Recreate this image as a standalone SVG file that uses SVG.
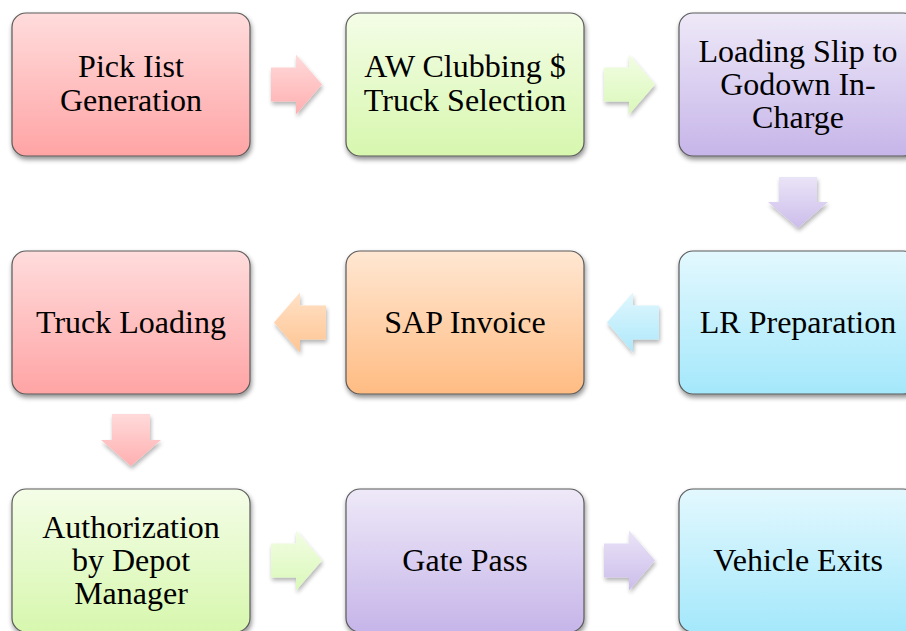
<svg xmlns="http://www.w3.org/2000/svg" width="906" height="631" viewBox="0 0 906 631">
<style>
.box{stroke:#5a5a5a;stroke-width:1.2;filter:url(#sh)}
.arr{filter:url(#sha)}
.t{font-family:'Liberation Serif','Times New Roman','DejaVu Serif',serif;font-size:32px;fill:#000;text-anchor:middle}
</style>
<defs>
<filter id="sh" x="-10%" y="-10%" width="125%" height="130%">
<feGaussianBlur in="SourceAlpha" stdDeviation="2.5"/>
<feOffset dx="1" dy="3" result="b"/>
<feComponentTransfer><feFuncA type="linear" slope="0.45"/></feComponentTransfer>
<feMerge><feMergeNode/><feMergeNode in="SourceGraphic"/></feMerge>
</filter>
<filter id="sha" x="-20%" y="-20%" width="150%" height="150%">
<feGaussianBlur in="SourceAlpha" stdDeviation="2"/>
<feOffset dx="1" dy="3" result="b"/>
<feComponentTransfer><feFuncA type="linear" slope="0.3"/></feComponentTransfer>
<feMerge><feMergeNode/><feMergeNode in="SourceGraphic"/></feMerge>
</filter>
<linearGradient id="gR" x1="0" y1="0" x2="0" y2="1"><stop offset="0" stop-color="#FFDCDC"/><stop offset="1" stop-color="#FFA4A5"/></linearGradient>
<linearGradient id="gG" x1="0" y1="0" x2="0" y2="1"><stop offset="0" stop-color="#F4FDE7"/><stop offset="1" stop-color="#D7F7AE"/></linearGradient>
<linearGradient id="gP" x1="0" y1="0" x2="0" y2="1"><stop offset="0" stop-color="#EEE9F8"/><stop offset="1" stop-color="#C6B5E9"/></linearGradient>
<linearGradient id="gB" x1="0" y1="0" x2="0" y2="1"><stop offset="0" stop-color="#E3F8FE"/><stop offset="1" stop-color="#A4E8FB"/></linearGradient>
<linearGradient id="gO" x1="0" y1="0" x2="0" y2="1"><stop offset="0" stop-color="#FFE7D2"/><stop offset="1" stop-color="#FFBC83"/></linearGradient>
<linearGradient id="aR" x1="0" y1="0" x2="0" y2="1"><stop offset="0" stop-color="#FFDADA"/><stop offset="1" stop-color="#FFAFB0"/></linearGradient>
<linearGradient id="aG" x1="0" y1="0" x2="0" y2="1"><stop offset="0" stop-color="#F2FDE3"/><stop offset="1" stop-color="#DAF8BA"/></linearGradient>
<linearGradient id="aP" x1="0" y1="0" x2="0" y2="1"><stop offset="0" stop-color="#EAE4F7"/><stop offset="1" stop-color="#CCBDEB"/></linearGradient>
<linearGradient id="aB" x1="0" y1="0" x2="0" y2="1"><stop offset="0" stop-color="#E0F7FE"/><stop offset="1" stop-color="#AEE8FA"/></linearGradient>
<linearGradient id="aO" x1="0" y1="0" x2="0" y2="1"><stop offset="0" stop-color="#FFE1C6"/><stop offset="1" stop-color="#FFC593"/></linearGradient>
</defs>
<rect width="906" height="631" fill="#fff"/>
<g id="connectors">
<path class="arr" fill="url(#aR)" d="M271,67.5 H296 V54.5 L322,84.5 L296,114.5 V101.5 H271 Z"/>
<path class="arr" fill="url(#aG)" d="M604,67.5 H629 V54.5 L655,84.5 L629,114.5 V101.5 H604 Z"/>
<path class="arr" fill="url(#aP)" d="M779,177 H817 V202 H828 L798,228 L768,202 H779 Z"/>
<path class="arr" fill="url(#aB)" d="M659,305.5 H633 V292.5 L607,322.5 L633,352.5 V339.5 H659 Z"/>
<path class="arr" fill="url(#aO)" d="M326,305.5 H300 V292.5 L274,322.5 L300,352.5 V339.5 H326 Z"/>
<path class="arr" fill="url(#aR)" d="M112,414 H150 V440 H161 L131,466 L101,440 H112 Z"/>
<path class="arr" fill="url(#aG)" d="M271,543.5 H296 V530.5 L322,560.5 L296,590.5 V577.5 H271 Z"/>
<path class="arr" fill="url(#aP)" d="M604,543.5 H629 V530.5 L655,560.5 L629,590.5 V577.5 H604 Z"/>
</g>
<g class="t" font-family="Liberation Serif, Times New Roman, DejaVu Serif, serif">
<g id="n1"><rect class="box" x="12" y="13" width="238" height="143" rx="14" fill="url(#gR)"/><text x="131" y="77">Pick Iist</text><text x="131" y="111">Generation</text></g>
<g id="n2"><rect class="box" x="346" y="13" width="238" height="143" rx="14" fill="url(#gG)"/><text x="465" y="77">AW Clubbing $</text><text x="465" y="111">Truck Selection</text></g>
<g id="n3"><rect class="box" x="679" y="13" width="238" height="143" rx="14" fill="url(#gP)"/><text x="798" y="62">Loading Slip to</text><text x="798" y="95">Godown In-</text><text x="798" y="128">Charge</text></g>
<g id="n4"><rect class="box" x="679" y="251" width="238" height="143" rx="14" fill="url(#gB)"/><text x="798" y="333">LR Preparation</text></g>
<g id="n5"><rect class="box" x="346" y="251" width="238" height="143" rx="14" fill="url(#gO)"/><text x="465" y="333">SAP Invoice</text></g>
<g id="n6"><rect class="box" x="12" y="251" width="238" height="143" rx="14" fill="url(#gR)"/><text x="131" y="333">Truck Loading</text></g>
<g id="n7"><rect class="box" x="12" y="489" width="238" height="143" rx="14" fill="url(#gG)"/><text x="131" y="538">Authorization</text><text x="131" y="571">by Depot</text><text x="131" y="604">Manager</text></g>
<g id="n8"><rect class="box" x="346" y="489" width="238" height="143" rx="14" fill="url(#gP)"/><text x="465" y="571">Gate Pass</text></g>
<g id="n9"><rect class="box" x="679" y="489" width="238" height="143" rx="14" fill="url(#gB)"/><text x="798" y="571">Vehicle Exits</text></g>
</g>
</svg>
